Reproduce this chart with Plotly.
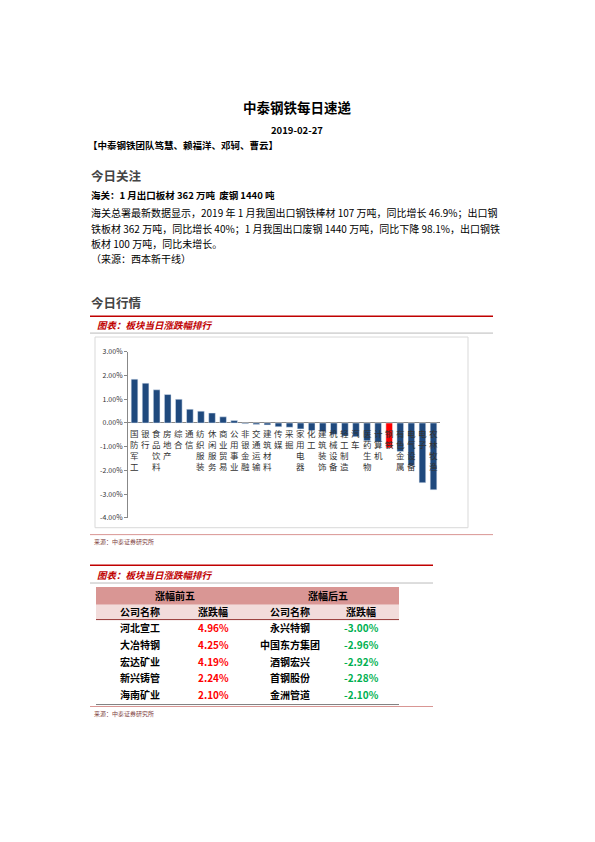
import plotly.graph_objects as go

W, H = 579, 826  # page is 595x842 including the 8px body margin
OFF = 8
sectors = ["国防军工","银行","食品饮料","房地产","综合","通信","纺织服装","休闲服务","商业贸易","公用事业",
           "非银金融","交通运输","建筑材料","传媒","采掘","家用电器","化工","建筑装饰","机械设备","轻工制造",
           "汽车","医药生物","计算机","钢铁","有色金属","电气设备","电子","农林牧渔"]
changes = [1.85,1.68,1.40,1.20,1.00,0.58,0.50,0.42,0.26,0.10,
           -0.03,-0.06,-0.08,-0.16,-0.18,-0.25,-0.32,-0.36,-0.48,-0.55,
           -0.58,-0.75,-0.80,-1.05,-1.20,-1.80,-2.52,-2.82]
y_ticks = [3,2,1,0,-1,-2,-3,-4]
top_names = ["河北宣工","大冶特钢","宏达矿业","新兴铸管","海南矿业"]
top_vals = ["4.96%","4.25%","4.19%","2.24%","2.10%"]
bot_names = ["永兴特钢","中国东方集团","酒钢宏兴","首钢股份","金洲管道"]
bot_vals = ["-3.00%","-2.96%","-2.92%","-2.28%","-2.10%"]

FONT = "Noto Sans CJK SC"
def X(px): return (px - OFF) / W
def Y(py): return 1 - (py - OFF) / H

colors = ["#FF0000" if s == "钢铁" else "#1F497D" for s in sectors]
fig = go.Figure(go.Bar(x=sectors, y=changes, marker_color=colors, width=0.6))

ann, shp = [], []
def txt(x, y, t, size=9, color="#000", bold=False, anchor="left", italic=False):
    if bold: t = "<b>%s</b>" % t
    if italic: t = "<i>%s</i>" % t
    ann.append(dict(x=X(x), y=Y(y), xref="paper", yref="paper", text=t, showarrow=False,
                    xanchor=anchor, yanchor="middle", font=dict(size=size, color=color, family=FONT)))
def hline(x0, x1, y, color, w=1):
    shp.append(dict(type="line", xref="paper", yref="paper", x0=X(x0), x1=X(x1), y0=Y(y), y1=Y(y),
                    line=dict(color=color, width=w)))
def rect(x0, x1, y0, y1, fill, line="rgba(0,0,0,0)"):
    shp.append(dict(type="rect", xref="paper", yref="paper", x0=X(x0), x1=X(x1), y0=Y(y0), y1=Y(y1),
                    fillcolor=fill, line=dict(color=line, width=1), layer="below"))

txt(297, 102, "中泰钢铁每日速递", 13.5, bold=True, anchor="center")
txt(297, 125, "2019-02-27", 9.5, bold=True, anchor="center")
txt(86, 141, "【中泰钢铁团队笃慧、赖福洋、邓轲、曹云】", 9.5, bold=True)
txt(89, 171, "今日关注", 12.5, color="#444", bold=True)
txt(89, 191, "海关：1 月出口板材 362 万吨  废钢 1440 吨", 9.5, bold=True)
txt(89, 209, "海关总署最新数据显示，2019 年 1 月我国出口钢铁棒材 107 万吨，同比增长 46.9%；出口钢", 10)
txt(89, 225, "铁板材 362 万吨，同比增长 40%；1 月我国出口废钢 1440 万吨，同比下降 98.1%，出口钢铁", 10)
txt(89, 240, "板材 100 万吨，同比未增长。", 10)
txt(89, 255, "（来源：西本新干线）", 10)
txt(89, 300, "今日行情", 12.5, color="#444", bold=True)

hline(90, 493, 314, "#C00000", 1.5)
txt(95, 323, "图表：板块当日涨跌幅排行", 9.5, color="#C00000", bold=True, italic=True)
hline(90, 493, 331, "#BBBBBB", 1)
rect(95, 468, 335, 528, "white", "#D9D9D9")
hline(90, 493, 535, "#D99694", 1)
txt(92, 542, "来源：中泰证券研究所", 6, color="#7F3F3F")

for s in sectors:
    ann.append(dict(x=s, y=0, xref="x", yref="y", text="<br>".join(s), showarrow=False,
                    yanchor="top", yshift=-2, font=dict(size=8.5, color="#333", family=FONT)))

hline(90, 433, 566, "#C00000", 1.5)
txt(95, 576, "图表：板块当日涨跌幅排行", 9.5, color="#C00000", bold=True, italic=True)
hline(90, 433, 584, "#BBBBBB", 1)
rect(96, 399, 588, 606, "#D99694")
rect(96, 399, 606, 621, "#F2DCDB")
hline(96, 399, 621, "#943634", 1)
hline(96, 399, 707, "#7F7F7F", 1)
txt(175, 597, "涨幅前五", 10, bold=True, anchor="center")
txt(328, 597, "涨幅后五", 10, bold=True, anchor="center")
for xx, t in [(140, "公司名称"), (213, "涨跌幅"), (290, "公司名称"), (361, "涨跌幅")]:
    txt(xx, 613, t, 10, bold=True, anchor="center")
for i in range(5):
    yy = 629 + i * 17
    txt(140, yy, top_names[i], 10, bold=True, anchor="center")
    txt(213, yy, top_vals[i], 10, color="#FF0000", bold=True, anchor="center")
    txt(290, yy, bot_names[i], 10, bold=True, anchor="center")
    txt(361, yy, bot_vals[i], 10, color="#00B050", bold=True, anchor="center")
hline(90, 433, 709, "#D99694", 1)
txt(92, 716, "来源：中泰证券研究所", 6, color="#7F3F3F")

fig.update_layout(
    width=W, height=H, margin=dict(l=0, r=0, t=0, b=0), paper_bgcolor="white", plot_bgcolor="rgba(0,0,0,0)",
    showlegend=False, annotations=ann, shapes=shp, bargap=0.4,
    xaxis=dict(domain=[X(128), X(440)], anchor="y", showticklabels=False, showline=False, ticks="",
               showgrid=False, zeroline=False),
    yaxis=dict(domain=[Y(518), Y(350)], range=[-4, 3], tickvals=y_ticks,
               ticktext=["%.2f%%" % v for v in y_ticks], tickfont=dict(size=7, family=FONT, color="#333"),
               showgrid=False, zeroline=True, zerolinecolor="#888", zerolinewidth=1,
               showline=True, linecolor="#888", ticks="outside", ticklen=3, tickcolor="#888"),
)
fig.write_html("out.html")
